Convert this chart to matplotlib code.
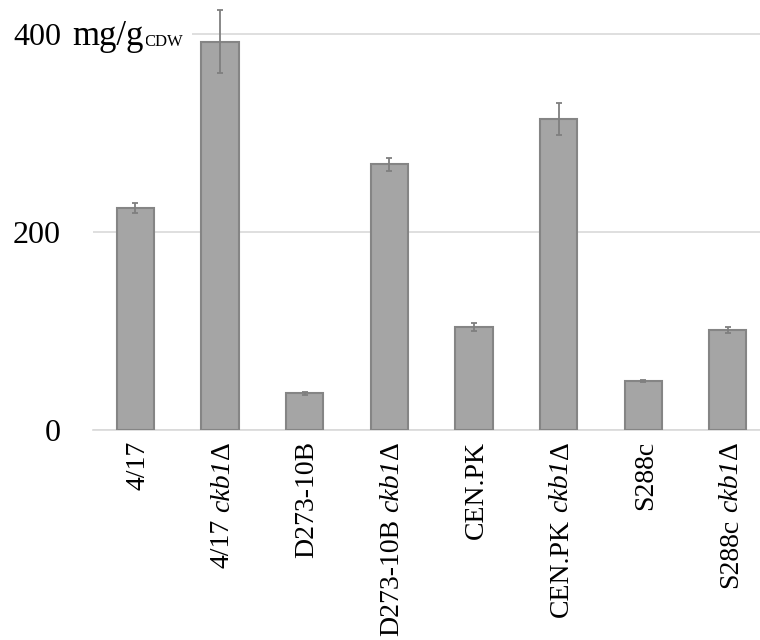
import matplotlib
matplotlib.use('Agg')
import matplotlib.pyplot as plt

plt.rcParams['font.family'] = ['Liberation Serif', 'DejaVu Serif']

# strain labels split into: upright prefix, italic gene name, upright suffix
strain_base = ['4/17', '4/17', 'D273-10B', 'D273-10B', 'CEN.PK', 'CEN.PK', 'S288c', 'S288c']
strain_gene = ['', 'ckb1', '', 'ckb1', '', 'ckb1', '', 'ckb1']
strain_suffix = ['', 'Δ', '', 'Δ', '', 'Δ', '', 'Δ']
# content in mg/g CDW, error = +/- value
values = [224, 392, 37, 268, 104, 314, 49.5, 101]
errors = [5, 32, 1.5, 7, 4.5, 16, 1, 3]

fig = plt.figure(figsize=(7.6, 6.4), dpi=100)
ax = fig.add_axes([93/760, 1-430/640, 1-93/760, 430/640])

x = list(range(len(values)))
ax.bar(x, values, width=0.44, color='#a5a5a5', edgecolor='#858585', linewidth=1.5, zorder=3)
ax.errorbar(x, values, yerr=errors, fmt='none', ecolor='#7f7f7f', elinewidth=1.3,
            capsize=2.5, capthick=1.3, zorder=4)

ax.set_xlim(-0.5, 7.38)
ax.set_ylim(0, 434)
ax.set_yticks([0, 200, 400])
ax.set_yticklabels(['0', '200', '400'])
ax.yaxis.grid(True, color='#d9d9d9', linewidth=1.2, zorder=0)
for s in ['top', 'right', 'left']:
    ax.spines[s].set_visible(False)
ax.spines['bottom'].set_color('#d9d9d9')
ax.spines['bottom'].set_linewidth(1.2)
ax.tick_params(axis='both', length=0, labelsize=23, colors='black')
ax.tick_params(axis='y', pad=23)
ax.set_xticks(x)
ax.set_xticklabels([])

# x labels built from pieces, read bottom-to-top, top end just under the axis
fs = 20
dx = 6.5
for i in x:
    kw = dict(rotation=90, rotation_mode='anchor', ha='right', va='baseline',
              fontsize=fs, textcoords='offset points', annotation_clip=False)
    if strain_gene[i]:
        t = ax.annotate(strain_suffix[i], xy=(i, 0), xycoords=('data', 'axes fraction'),
                        xytext=(dx, -8), **kw)
        t = ax.annotate(strain_gene[i], xy=(i, 0), xycoords=('data', t),
                        xytext=(dx, -0.5), style='italic', **kw)
        ax.annotate(strain_base[i], xy=(i, 0), xycoords=('data', t),
                    xytext=(dx, -5), **kw)
    else:
        ax.annotate(strain_base[i], xy=(i, 0), xycoords=('data', 'axes fraction'),
                    xytext=(dx, -8), **kw)

# unit label next to the top tick
unit = fig.text(72/760, 1-45/640, 'mg/g', fontsize=25, va='baseline', ha='left',
                bbox=dict(facecolor='white', edgecolor='none', pad=2))
ax.annotate('CDW', xy=(1, 0), xycoords=unit, xytext=(1, 2), textcoords='offset points',
            fontsize=12, va='bottom', ha='left',
            bbox=dict(facecolor='white', edgecolor='none', pad=6))

fig.savefig('out.png', dpi=100)
